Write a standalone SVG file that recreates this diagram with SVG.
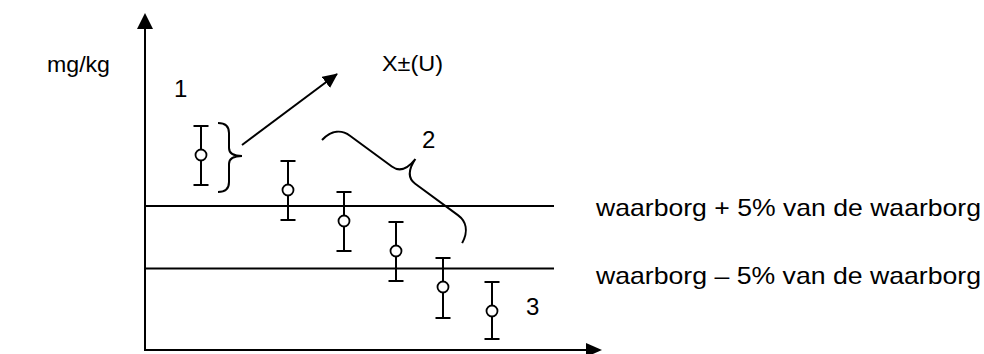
<svg xmlns="http://www.w3.org/2000/svg" width="984" height="354" viewBox="0 0 984 354">
<style>
  .ln{stroke:#000;stroke-width:2;fill:none}
  .eb{stroke:#000;stroke-width:2;fill:none}
  .dot{stroke:#000;stroke-width:1.8;fill:#fff}
  .t{font-family:"Liberation Sans",Arial,sans-serif;fill:#000}
</style>
<defs>
  <marker id="ah" markerWidth="16" markerHeight="16" refX="14" refY="7" orient="auto" markerUnits="userSpaceOnUse">
    <path d="M0,0 L15,7 L0,14 Z" fill="#000"/>
  </marker>
</defs>
<rect width="984" height="354" fill="#fff"/>
<g id="axes">
  <line class="ln" x1="145" y1="351" x2="145" y2="27"/>
  <path d="M137,29 L145,13 L153,29 Z" fill="#000"/>
  <line class="ln" x1="144" y1="350" x2="588" y2="350"/>
  <path d="M586,343 L602,350 L586,357 Z" fill="#000"/>
</g>
<g id="limits">
  <line class="ln" x1="145" y1="206" x2="554" y2="206"/>
  <line class="ln" x1="145" y1="268.5" x2="554" y2="268.5"/>
</g>
<g id="points">
  <g id="p1"><path class="eb" d="M201,126V185M193.5,126H208.5M193.5,185H208.5"/><circle class="dot" cx="201" cy="155" r="5.5"/></g>
  <g id="p2"><path class="eb" d="M288,161V220M280.5,161H295.5M280.5,220H295.5"/><circle class="dot" cx="288" cy="190" r="5.5"/></g>
  <g id="p3"><path class="eb" d="M344,192V251M336.5,192H351.5M336.5,251H351.5"/><circle class="dot" cx="344" cy="221" r="5.5"/></g>
  <g id="p4"><path class="eb" d="M396,222V281M388.5,222H403.5M388.5,281H403.5"/><circle class="dot" cx="396" cy="251" r="5.5"/></g>
  <g id="p5"><path class="eb" d="M443,258V318M435.5,258H450.5M435.5,318H450.5"/><circle class="dot" cx="443" cy="287" r="5.5"/></g>
  <g id="p6"><path class="eb" d="M492,282V339M484.5,282H499.5M484.5,339H499.5"/><circle class="dot" cx="492" cy="311" r="5.5"/></g>
</g>
<g id="braces">
  <path class="ln" d="M218,123 Q229,123 229,133 L229,148 Q229,156 242,156 Q229,156 229,164 L229,182 Q229,192 218,192"/>
  <path class="ln" transform="translate(322,140) rotate(36.35)" d="M0,0 C2,-14 10,-20 20,-20 L72,-20 C82,-20 86,-28 86.5,-40 C87,-28 91,-20 101,-20 L154,-20 C164,-20 172,-14 174,0"/>
</g>
<g id="connectors">
  <line class="ln" x1="242" y1="145" x2="337" y2="74" marker-end="url(#ah)"/>
</g>
<g id="labels">
  <text class="t" x="47" y="72" font-size="22" textLength="63" lengthAdjust="spacingAndGlyphs">mg/kg</text>
  <text class="t" x="174" y="97" font-size="24">1</text>
  <text class="t" x="382" y="71" font-size="22" textLength="61" lengthAdjust="spacingAndGlyphs">X±(U)</text>
  <text class="t" x="422" y="148" font-size="24">2</text>
  <text class="t" x="526" y="315" font-size="24">3</text>
  <text class="t" x="596" y="216" font-size="24" textLength="385" lengthAdjust="spacingAndGlyphs">waarborg + 5% van de waarborg</text>
  <text class="t" x="596" y="284" font-size="24" textLength="385" lengthAdjust="spacingAndGlyphs">waarborg – 5% van de waarborg</text>
</g>
</svg>
